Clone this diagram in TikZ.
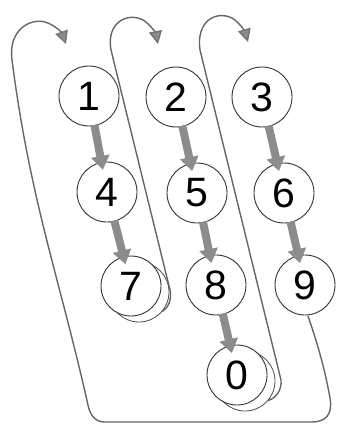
\documentclass[tikz,border=0pt]{standalone}
\usepackage{fontspec}
\setmainfont{Liberation Sans}
\usetikzlibrary{arrows.meta}
\begin{document}
\begin{tikzpicture}[x=1pt,y=-1pt,
  keynode/.style={circle,draw=black!80,line width=0.9pt,fill=white,minimum size=60pt,inner sep=0pt,font=\fontsize{41}{41}\selectfont},
  shadownode/.style={circle,draw=black!70,line width=0.8pt,fill=white,minimum size=60pt,inner sep=0pt},
  garrow/.style={draw=black!45,line width=8pt,-{Triangle[width=18pt,length=14pt]},shorten >=-8pt,shorten <=-1pt},
  loopline/.style={draw=black!60,line width=1.4pt},
  looptip/.style={-{Triangle[width=13pt,length=13pt,fill=black!45,color=black!55]}}
]
\useasboundingbox (0,0) rectangle (338,425);

% loops
\draw[loopline,looptip] (308,316) .. controls (318,345) and (325,370) .. (330,398)
  .. controls (333,415) and (325,422) .. (312,422) -- (105,422)
  .. controls (95,422) and (90,415) .. (88,405)
  .. controls (60,280) and (30,200) .. (12,60)
  .. controls (8,30) and (30,18) .. (45,22)
  .. controls (55,25) and (62,33) .. (66,44);

% shadow circles
\node[shadownode] (s7) at (139,292) {};
\node[shadownode] (s0) at (245,381) {};

\draw[loopline,looptip] (s7.-40) .. controls (168,308) and (172,300) .. (170,290)
  -- (111,50)
  .. controls (106,22) and (128,12) .. (143,20)
  .. controls (151,25) and (156,34) .. (158,44);
\draw[loopline,looptip] (s0.-40) .. controls (276,398) and (282,390) .. (281,380)
  -- (200,50)
  .. controls (196,22) and (215,10) .. (232,18)
  .. controls (240,23) and (245,32) .. (248,42);

% keys
\node[keynode] (k1) at (89,96) {1};
\node[keynode] (k2) at (176,97) {2};
\node[keynode] (k3) at (262,97) {3};
\node[keynode] (k4) at (107,192) {4};
\node[keynode] (k5) at (197,193) {5};
\node[keynode] (k6) at (284,193) {6};
\node[keynode] (k7) at (131,286) {7};
\node[keynode] (k8) at (216,285) {8};
\node[keynode] (k9) at (305,285) {9};
\node[keynode] (k0) at (237,375) {0};

% gray arrows
\draw[garrow] (k1) -- (k4);
\draw[garrow] (k4) -- (k7);
\draw[garrow] (k2) -- (k5);
\draw[garrow] (k5) -- (k8);
\draw[garrow] (k8) -- (k0);
\draw[garrow] (k3) -- (k6);
\draw[garrow] (k6) -- (k9);
\end{tikzpicture}
\end{document}
